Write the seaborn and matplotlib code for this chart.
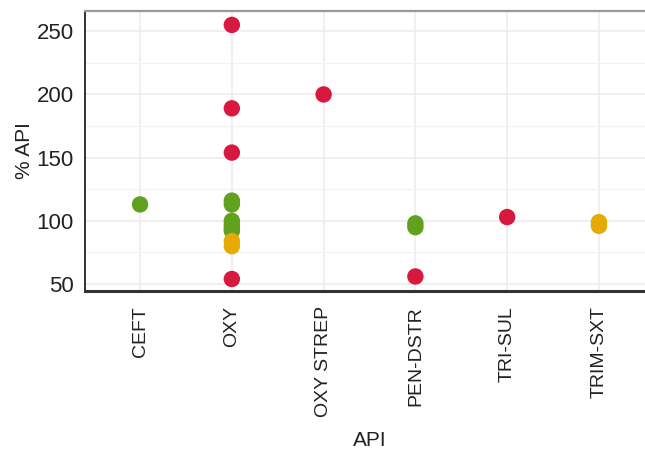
import pandas as pd
import matplotlib.pyplot as plt
import seaborn as sns
from matplotlib.ticker import MultipleLocator

# values
api = ['CEFT',
       'OXY', 'OXY', 'OXY', 'OXY', 'OXY', 'OXY', 'OXY', 'OXY', 'OXY', 'OXY', 'OXY', 'OXY',
       'OXY STREP',
       'PEN-DSTR', 'PEN-DSTR', 'PEN-DSTR',
       'TRI-SUL',
       'TRIM-SXT', 'TRIM-SXT']
pct_api = [113,
           255, 189, 154, 116, 113, 100, 97, 94, 92, 84, 80, 54,
           200,
           98, 95, 56,
           103,
           99, 96]
status = ['ok',
          'high', 'high', 'high', 'ok', 'ok', 'ok', 'ok', 'ok', 'ok', 'low', 'low', 'high',
          'high',
          'ok', 'ok', 'high',
          'high',
          'low', 'low']

categories = ['CEFT', 'OXY', 'OXY STREP', 'PEN-DSTR', 'TRI-SUL', 'TRIM-SXT']
colors = {'high': '#D7193F', 'ok': '#62A11E', 'low': '#E6AB02'}

df = pd.DataFrame({'API': api, 'pct': pct_api, 'status': status})
df['API'] = pd.Categorical(df['API'], categories=categories, ordered=True)
df['xpos'] = df['API'].cat.codes

sns.set_style('white')
plt.rcParams['font.family'] = ['Liberation Sans', 'DejaVu Sans']

fig = plt.figure(figsize=(6.45, 4.51), dpi=100)
ax = fig.add_axes([85 / 645, 1 - 291 / 451, 569 / 645, 280 / 451])

ax.set_axisbelow(True)
ax.yaxis.set_major_locator(MultipleLocator(50))
ax.yaxis.set_minor_locator(MultipleLocator(25))
ax.grid(True, which='major', color='#EBEBEB', lw=1.1)
ax.grid(True, which='minor', axis='y', color='#F2F2F2', lw=0.8)

sns.scatterplot(data=df, x='xpos', y='pct', hue='status', palette=colors,
                s=140, linewidth=0, legend=False, ax=ax, zorder=3)

ax.set_xlim(-0.6, 5.6)
ax.set_ylim(44.5, 266)
ax.set_xticks(range(len(categories)))
ax.set_xticklabels(categories, rotation=90, fontsize=14, color='#222222')
ax.tick_params(axis='y', labelsize=16, labelcolor='#222222')
ax.tick_params(axis='both', which='major', length=4, width=1, color='#333333', pad=4)
ax.tick_params(axis='x', pad=7)
ax.tick_params(axis='y', which='minor', length=0)
ax.set_xlabel('API', fontsize=15, color='#222222', labelpad=10)
ax.set_ylabel('% API', fontsize=15, color='#222222', labelpad=2)

for side in ['left', 'bottom']:
    ax.spines[side].set_color('#333333')
ax.spines['left'].set_linewidth(1.4)
ax.spines['bottom'].set_linewidth(2.2)
ax.spines['top'].set_color('#9A9A9A')
ax.spines['top'].set_linewidth(1.6)
ax.spines['right'].set_visible(False)

fig.savefig('out.png', dpi=100)
